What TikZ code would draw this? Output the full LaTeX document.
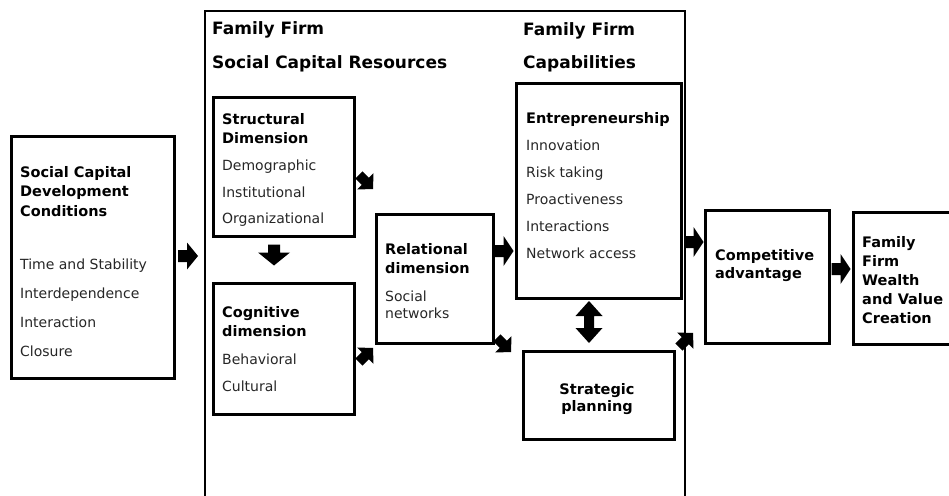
\documentclass[tikz,border=0pt]{standalone}
\usepackage{fontspec}
\setmainfont{DejaVu Sans}
\tikzset{
  box/.style={draw, line width=2.5pt, rectangle, anchor=north west, inner sep=0pt},
  bt/.style={anchor=base west, inner sep=0pt, font=\bfseries\fontsize{14.5}{16}\selectfont},
  nt/.style={anchor=base west, inner sep=0pt, text=black!85, font=\fontsize{14}{16}\selectfont},
  ttl/.style={anchor=base west, inner sep=0pt, font=\bfseries\fontsize{17}{19}\selectfont},
  arrowfill/.style={fill=black},
}
% #1 name, #2 centre, #3 angle, #4 length, #5 head length, #6 shaft width, #7 head width
\newcommand{\blkarrow}[7]{%
  \begin{scope}[shift={#2}, rotate=#3]
    \coordinate (#1) at (0,0);
    \fill[arrowfill] ({-#4/2},{-#6/2}) -- ({#4/2-#5},{-#6/2}) -- ({#4/2-#5},{-#7/2})
      -- ({#4/2},0) -- ({#4/2-#5},{#7/2}) -- ({#4/2-#5},{#6/2}) -- ({-#4/2},{#6/2}) -- cycle;
  \end{scope}}
\begin{document}
\begin{tikzpicture}[x=1pt,y=-1pt]
\useasboundingbox (0,0) rectangle (949,495);
% outer frame (open at bottom)
\draw[line width=2.5pt] (205,500) -- (205,11) -- (685,11) -- (685,500);
% boxes
\node[box, minimum width=163pt, minimum height=242pt] (dev) at (10,135) {};
\node[box, minimum width=141pt, minimum height=139pt] (struct) at (212,96) {};
\node[box, minimum width=141pt, minimum height=131pt] (cog) at (212,282) {};
\node[box, minimum width=117pt, minimum height=129pt] (rel) at (375,213) {};
\node[box, minimum width=165pt, minimum height=215pt] (ent) at (515,82) {};
\node[box, minimum width=151pt, minimum height=88pt] (strat) at (522,350) {};
\node[box, minimum width=124pt, minimum height=133pt] (comp) at (704,209) {};
\node[box, minimum width=110pt, minimum height=132pt] (wealth) at (852,211) {};
% titles
\node[ttl] (t1a) at (212,35) {Family Firm};
\node[ttl] (t1b) at (212,68) {Social Capital Resources};
\node[ttl] (t2a) at (523,36) {Family Firm};
\node[ttl] (t2b) at (523,68) {Capabilities};
% development conditions
\foreach \y/\t [count=\i] in {177/Social Capital,196/Development,216/Conditions}
  \node[bt, name=devb\i] at (20,\y) {\t};
\foreach \y/\t [count=\i] in {269/Time and Stability,298/Interdependence,327/Interaction,356/Closure}
  \node[nt, name=devn\i] at (20,\y) {\t};
% structural
\foreach \y/\t [count=\i] in {124/Structural,143/Dimension}
  \node[bt, name=strb\i] at (222,\y) {\t};
\foreach \y/\t [count=\i] in {170/Demographic,197/Institutional,223/Organizational}
  \node[nt, name=strn\i] at (222,\y) {\t};
% cognitive
\foreach \y/\t [count=\i] in {317/Cognitive,336/dimension}
  \node[bt, name=cogb\i] at (222,\y) {\t};
\foreach \y/\t [count=\i] in {364/Behavioral,391/Cultural}
  \node[nt, name=cogn\i] at (222,\y) {\t};
% relational
\foreach \y/\t [count=\i] in {254/Relational,273/dimension}
  \node[bt, name=relb\i] at (385,\y) {\t};
\foreach \y/\t [count=\i] in {301/Social,318/networks}
  \node[nt, name=reln\i] at (385,\y) {\t};
% entrepreneurship
\node[bt] (entb) at (526,123) {Entrepreneurship};
\foreach \y/\t [count=\i] in {150/Innovation,177/Risk taking,204/Proactiveness,231/Interactions,258/Network access}
  \node[nt, name=entn\i] at (526,\y) {\t};
% strategic planning
\node[bt, anchor=base] (sp1) at (597,394) {Strategic};
\node[bt, anchor=base] (sp2) at (597,411) {planning};
% competitive advantage
\node[bt] (ca1) at (715,260) {Competitive};
\node[bt] (ca2) at (715,278) {advantage};
% wealth
\foreach \y/\t [count=\i] in {247/Family,266/Firm,285/Wealth,304/and Value,323/Creation}
  \node[bt, name=wb\i] at (862,\y) {\t};
% block arrows
\blkarrow{a1}{(188,256)}{0}{20}{11}{12}{27}
\blkarrow{a2}{(274,255)}{-90}{21}{13}{12}{32}
\blkarrow{a3}{(366,182)}{-45}{20}{11}{10}{23}
\blkarrow{a4}{(366,355)}{45}{20}{11}{10}{23}
\blkarrow{a5}{(504,251)}{0}{19}{10}{12}{30}
\blkarrow{a6}{(504,345)}{-45}{20}{11}{10}{23}
\blkarrow{a8}{(694,242)}{0}{19}{10}{12}{30}
\blkarrow{a9}{(686,340)}{45}{20}{11}{10}{23}
\blkarrow{a10}{(841,269)}{0}{19}{10}{12}{30}
% double arrow
\coordinate (a7) at (589,322);
\fill[arrowfill] (589,301) -- (602.5,316) -- (594,316) -- (594,328) -- (602.5,328) -- (589,343)
  -- (575.5,328) -- (584,328) -- (584,316) -- (575.5,316) -- cycle;
\end{tikzpicture}
\end{document}
